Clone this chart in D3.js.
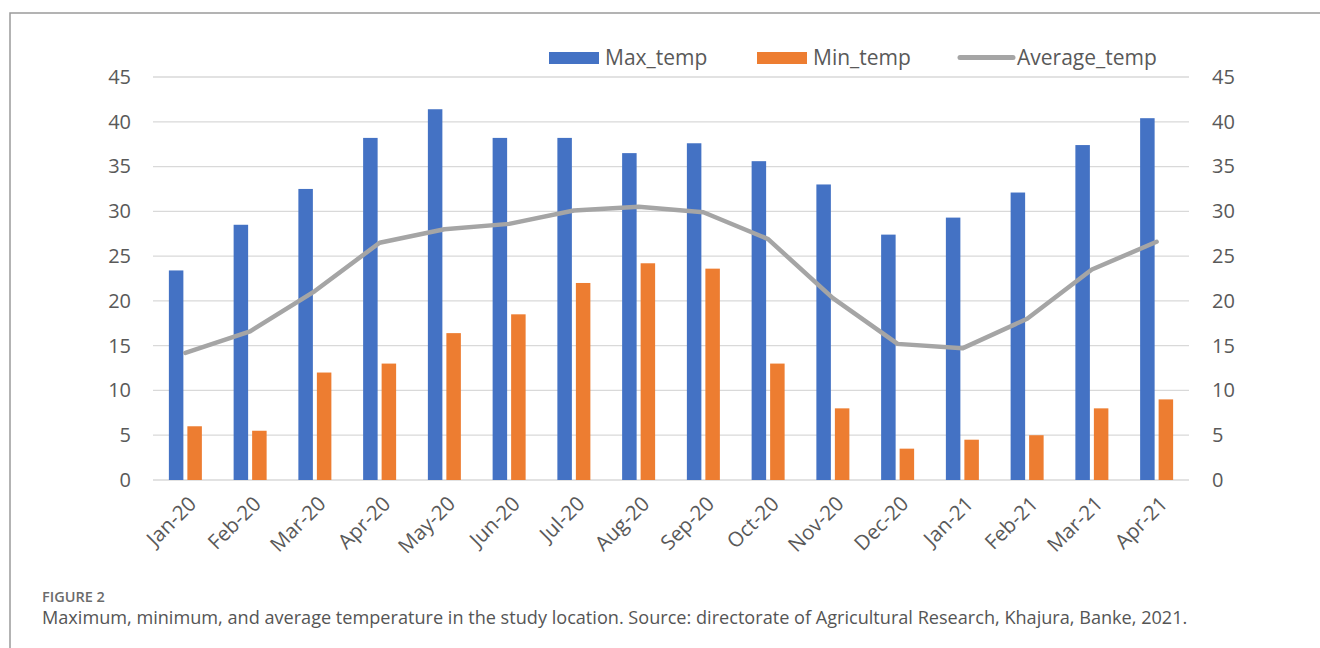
<!DOCTYPE html>
<html>
<head>
<meta charset="utf-8">
<script src="https://cdn.jsdelivr.net/npm/d3@7"></script>
<style>
  html, body { margin: 0; padding: 0; background: #fff; }
  svg { display: block; }
  text { font-family: "Open Sans", "Noto Sans", sans-serif; }
</style>
</head>
<body>
<svg id="chart" width="1320" height="648"></svg>
<script>
const categories = ["Jan-20","Feb-20","Mar-20","Apr-20","May-20","Jun-20","Jul-20","Aug-20","Sep-20","Oct-20","Nov-20","Dec-20","Jan-21","Feb-21","Mar-21","Apr-21"];
const maxTemp = [23.4, 28.5, 32.5, 38.2, 41.4, 38.2, 38.2, 36.5, 37.6, 35.6, 33.0, 27.4, 29.3, 32.1, 37.4, 40.4];
const minTemp = [6.0, 5.5, 12.0, 13.0, 16.4, 18.5, 22.0, 24.2, 23.6, 13.0, 8.0, 3.5, 4.5, 5.0, 8.0, 9.0];
const avgTemp = [14.2, 16.6, 21.1, 26.5, 28.0, 28.6, 30.1, 30.5, 29.9, 26.9, 20.3, 15.2, 14.7, 18.0, 23.5, 26.6];
const yTicks = [0, 5, 10, 15, 20, 25, 30, 35, 40, 45];
const seriesNames = ["Max_temp", "Min_temp", "Average_temp"];
const captionTitle = "FIGURE 2";
const captionText = "Maximum, minimum, and average temperature in the study location. Source: directorate of Agricultural Research, Khajura, Banke, 2021.";

const colors = { max: "#4472C4", min: "#ED7D31", avg: "#A5A5A5" };
const svg = d3.select("#chart");

// frame
svg.append("rect").attr("x", 10).attr("y", 13).attr("width", 1400).attr("height", 700)
  .attr("fill", "none").attr("stroke", "#9a9a9a").attr("stroke-width", 1.5);

const plot = { left: 153, right: 1189, top: 77, bottom: 480 };
const x = d3.scaleBand().domain(categories).range([plot.left, plot.right]).padding(0);
const y = d3.scaleLinear().domain([0, 45]).range([plot.bottom, plot.top]);

// gridlines
svg.append("g").selectAll("line").data(yTicks).join("line")
  .attr("x1", plot.left).attr("x2", plot.right)
  .attr("y1", d => y(d)).attr("y2", d => y(d))
  .attr("stroke", "#d9d9d9").attr("stroke-width", 1.3);

// left axis
const leftAxis = d3.axisLeft(y).tickValues(yTicks).tickSize(0).tickPadding(22);
const gl = svg.append("g").attr("transform", `translate(${plot.left},0)`).call(leftAxis);
gl.select(".domain").remove();
gl.selectAll("text").attr("font-size", 20).attr("fill", "#595959")
  .attr("font-family", '"Open Sans", sans-serif');

const rightAxis = d3.axisRight(y).tickValues(yTicks).tickSize(0).tickPadding(23);
const gr = svg.append("g").attr("transform", `translate(${plot.right},0)`).call(rightAxis);
gr.select(".domain").remove();
gr.selectAll("text").attr("font-size", 20).attr("fill", "#595959")
  .attr("font-family", '"Open Sans", sans-serif');

// bars
const bw = x.bandwidth();
const barW = 14.5, gap = 4;
svg.append("g").selectAll("rect").data(categories).join("rect")
  .attr("x", (d) => x(d) + bw / 2 - gap / 2 - barW)
  .attr("width", barW)
  .attr("y", (d, i) => y(maxTemp[i]))
  .attr("height", (d, i) => y(0) - y(maxTemp[i]))
  .attr("fill", colors.max);
svg.append("g").selectAll("rect").data(categories).join("rect")
  .attr("x", (d) => x(d) + bw / 2 + gap / 2)
  .attr("width", barW)
  .attr("y", (d, i) => y(minTemp[i]))
  .attr("height", (d, i) => y(0) - y(minTemp[i]))
  .attr("fill", colors.min);

// line
const line = d3.line().x((d, i) => x(categories[i]) + bw / 2).y(d => y(d));
svg.append("path").datum(avgTemp).attr("d", line)
  .attr("fill", "none").attr("stroke", colors.avg).attr("stroke-width", 4.5)
  .attr("stroke-linejoin", "round").attr("stroke-linecap", "round");

// x labels
svg.append("g").selectAll("text").data(categories).join("text")
  .attr("transform", d => `translate(${x(d) + bw / 2 + 7},${plot.bottom + 20}) rotate(-45)`)
  .attr("text-anchor", "end").attr("dy", "0.35em")
  .attr("font-size", 20.5).attr("fill", "#595959").text(d => d);

// legend
const legend = svg.append("g");
const legendItems = [
  { name: seriesNames[0], type: "rect", color: colors.max, x: 549 },
  { name: seriesNames[1], type: "rect", color: colors.min, x: 757 },
  { name: seriesNames[2], type: "line", color: colors.avg, x: 958 }
];
legendItems.forEach(it => {
  if (it.type === "rect") {
    legend.append("rect").attr("x", it.x).attr("y", 52).attr("width", 50).attr("height", 12).attr("fill", it.color);
  } else {
    legend.append("line").attr("x1", it.x + 2).attr("x2", it.x + 55).attr("y1", 57.5).attr("y2", 57.5)
      .attr("stroke", it.color).attr("stroke-width", 5).attr("stroke-linecap", "round");
  }
  legend.append("text").attr("x", it.x + (it.type === "rect" ? 56 : 59)).attr("y", 58).attr("dy", "0.35em")
    .attr("font-size", 21).attr("fill", "#595959").text(it.name);
});

// caption
svg.append("text").attr("x", 42).attr("y", 602).attr("font-size", 14.5).attr("font-weight", 600)
  .attr("fill", "#6b6b6b").text(captionTitle);
const cap = svg.append("text").attr("x", 42).attr("y", 624).attr("font-size", 16)
  .attr("fill", "#555").text(captionText);
const w = cap.node().getComputedTextLength();
cap.attr("font-size", 16 * 1146 / w);
</script>
</body>
</html>
